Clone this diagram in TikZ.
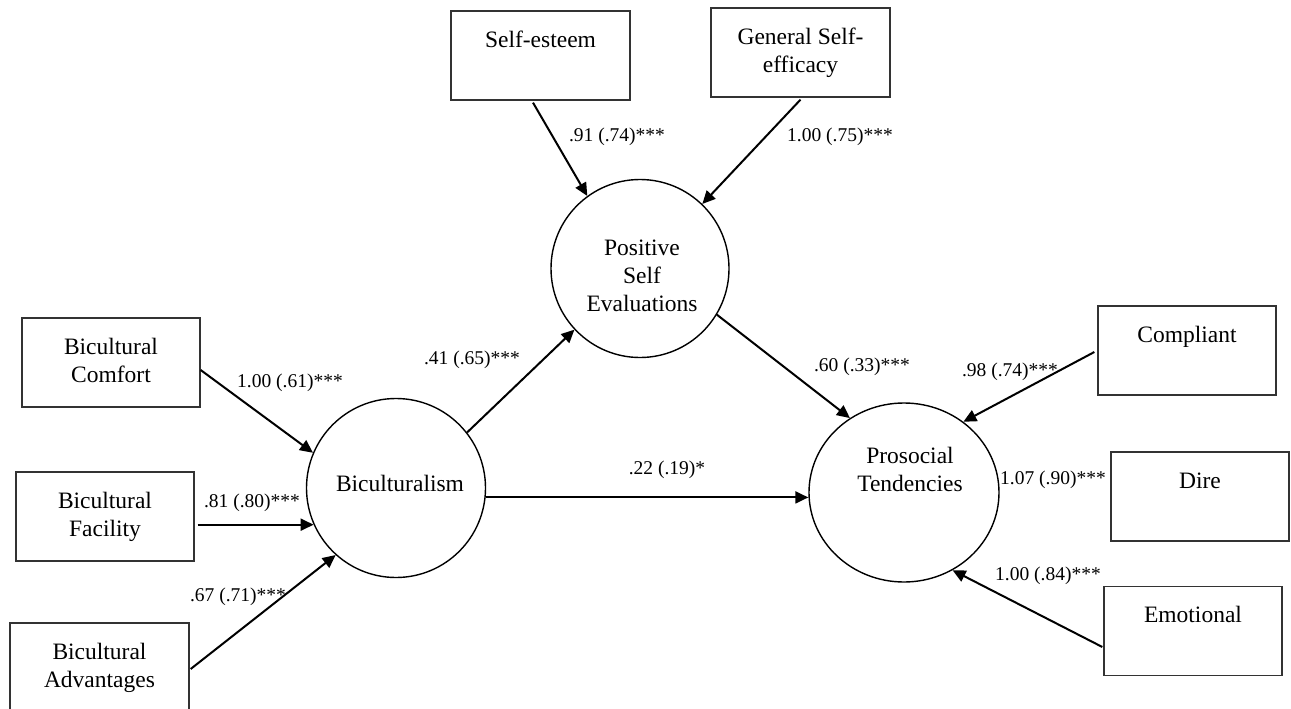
\documentclass[tikz,border=0pt]{standalone}
\usepackage{fontspec}
\setmainfont{Liberation Serif}
\usetikzlibrary{arrows.meta,calc,shapes.geometric}
\newcommand\mynodefont{\fontsize{23.5}{28}\selectfont}
\newcommand\mycoeffont{\fontsize{19.5}{23}\selectfont}
\begin{document}
\begin{tikzpicture}[x=1pt,y=-1pt,
  box/.style={draw=black!80, line width=1.3pt, minimum width=178pt, minimum height=89pt, inner sep=0pt, align=center, font=\mynodefont},
  latent/.style={draw, line width=1.4pt, circle, minimum size=179pt, inner sep=0pt},
  ntext/.style={align=center, font=\mynodefont, inner sep=0pt},
  coef/.style={font=\mycoeffont, inner sep=0pt},
  arr/.style={line width=2pt, -{Triangle[length=13pt,width=12pt]}}]
\fill[white] (0,0) rectangle (1291,709);
\useasboundingbox (0,0) rectangle (1291,709);

% observed indicators
\node[box] (comfort) at (111,362.5) {\strut Bicultural\\\strut Comfort};
\node[box] (facility) at (105,516.5) {\strut Bicultural\\\strut Facility};
\node[box, minimum width=179pt, minimum height=118pt] (advantages) at (99.5,682) {\strut Bicultural\\\strut Advantages\\\strut};
\node[box, minimum width=179pt] (selfesteem) at (540.5,55.5) {\strut Self-esteem\\\strut};
\node[box, minimum width=179pt] (gse) at (800.5,52.5) {\strut General Self-\\\strut efficacy};
\node[box] (compliant) at (1187,350.5) {\strut Compliant\\\strut};
\node[box] (dire) at (1200,496.5) {\strut Dire\\\strut};
\node[box] (emotional) at (1193,631) {\strut Emotional\\\strut};

% latent variables
\node[latent] (bic) at (396,488) {};
\node[ntext] (bictext) at (400,483) {Biculturalism};
\node[latent, minimum size=178pt] (pse) at (640,268.5) {};
\node[ntext] (psetext) at (642,278) {\strut Positive\\\strut Self\\\strut Evaluations};
\node[ellipse, draw, line width=1.4pt, minimum width=190pt, minimum height=179pt, inner sep=0pt] (pros) at (904,492.5) {};
\node[ntext] (prostext) at (910,472) {\strut Prosocial\\\strut Tendencies};

% connectors
\draw[arr] ($(comfort.east)+(0,7.5)$) -- (bic.157);
\draw[arr, shorten <=3pt] (bic.204 -| facility.east) -- (bic.204);
\draw[arr] ($(advantages.east)+(1,-13)$) -- (bic.228);
\draw[arr] (bic.38) -- (pse.223);
\draw[arr] (bic.-6) -- (bic.-6 -| pros.west);
\draw[arr] (pse.-31) -- (pros.126);
\draw[arr] ($(selfesteem.south)+(-7.5,2)$) -- (pse.126);
\draw[arr] ($(gse.south)+(0,2)$) -- (pse.46);
\draw[arr] ($(compliant.west)+(-3,1.5)$) -- (pros.50);
\draw[arr] ($(emotional.west)+(-1,16)$) -- (pros.-58);

% coefficients
\node[coef] (c1) at (290,383) {1.00 (.61)***};
\node[coef] (c2) at (252,503) {.81 (.80)***};
\node[coef] (c3) at (238,597) {.67 (.71)***};
\node[coef] (c4) at (472,360) {.41 (.65)***};
\node[coef] (c5) at (667,470) {.22 (.19)*};
\node[coef] (c6) at (862,367) {.60 (.33)***};
\node[coef] (c7) at (1010,372) {.98 (.74)***};
\node[coef] (c8) at (1053,480) {1.07 (.90)***};
\node[coef] (c9) at (1048,576) {1.00 (.84)***};
\node[coef] (c10) at (617,137) {.91 (.74)***};
\node[coef] (c11) at (840,137) {1.00 (.75)***};
\end{tikzpicture}
\end{document}
